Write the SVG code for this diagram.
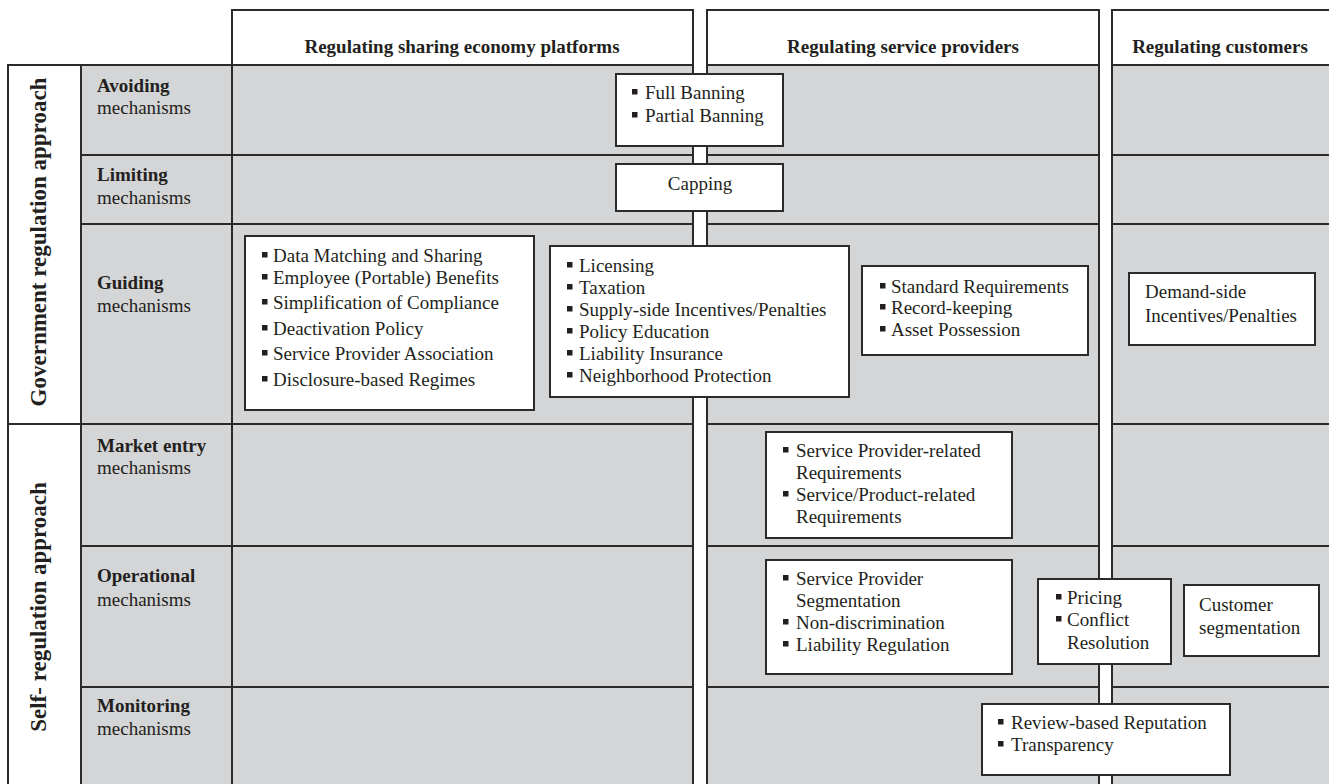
<svg xmlns="http://www.w3.org/2000/svg" xmlns:xlink="http://www.w3.org/1999/xlink" width="1329" height="784" viewBox="0 0 1329 784">
<style>
  .cell { fill: #d4d5d7; stroke: #2b2b2b; stroke-width: 2; }
  .wcell { fill: #ffffff; stroke: #2b2b2b; stroke-width: 2; }
  .box { fill: #ffffff; stroke: #2b2b2b; stroke-width: 2; }
  text { font-family: "Liberation Serif", "Times New Roman", serif; font-size: 19px; fill: #231f20; }
  .b { font-weight: bold; }
  .hdr { font-weight: bold; text-anchor: middle; }
  .vert { font-weight: bold; font-size: 23px; text-anchor: middle; }
  .mid { text-anchor: middle; }
</style>
<defs>
  <rect id="bul" x="0" y="-10" width="5.5" height="5.5" fill="#231f20"/>
</defs>

<g id="grid">
  <!-- headers -->
  <rect class="wcell" x="232" y="10" width="461" height="55"/>
  <rect class="wcell" x="707" y="10" width="392" height="55"/>
  <rect class="wcell" x="1112" y="10" width="222" height="55"/>
  <!-- approach column -->
  <rect class="wcell" x="8" y="65" width="73" height="359"/>
  <rect class="wcell" x="8" y="424" width="73" height="380"/>
  <!-- mechanism label column -->
  <rect class="cell" x="81" y="65" width="151" height="90"/>
  <rect class="cell" x="81" y="155" width="151" height="69"/>
  <rect class="cell" x="81" y="224" width="151" height="200"/>
  <rect class="cell" x="81" y="424" width="151" height="122"/>
  <rect class="cell" x="81" y="546" width="151" height="141"/>
  <rect class="cell" x="81" y="687" width="151" height="117"/>
  <!-- column 1 -->
  <rect class="cell" x="232" y="65" width="461" height="90"/>
  <rect class="cell" x="232" y="155" width="461" height="69"/>
  <rect class="cell" x="232" y="224" width="461" height="200"/>
  <rect class="cell" x="232" y="424" width="461" height="122"/>
  <rect class="cell" x="232" y="546" width="461" height="141"/>
  <rect class="cell" x="232" y="687" width="461" height="117"/>
  <!-- column 2 -->
  <rect class="cell" x="707" y="65" width="392" height="90"/>
  <rect class="cell" x="707" y="155" width="392" height="69"/>
  <rect class="cell" x="707" y="224" width="392" height="200"/>
  <rect class="cell" x="707" y="424" width="392" height="122"/>
  <rect class="cell" x="707" y="546" width="392" height="141"/>
  <rect class="cell" x="707" y="687" width="392" height="117"/>
  <!-- column 3 -->
  <rect class="cell" x="1112" y="65" width="222" height="90"/>
  <rect class="cell" x="1112" y="155" width="222" height="69"/>
  <rect class="cell" x="1112" y="224" width="222" height="200"/>
  <rect class="cell" x="1112" y="424" width="222" height="122"/>
  <rect class="cell" x="1112" y="546" width="222" height="141"/>
  <rect class="cell" x="1112" y="687" width="222" height="117"/>
</g>

<g id="headers">
  <text class="hdr" x="462" y="53">Regulating sharing economy platforms</text>
  <text class="hdr" x="903" y="53">Regulating service providers</text>
  <text class="hdr" x="1220" y="53">Regulating customers</text>
</g>

<g id="approaches">
  <text class="vert" transform="translate(46,242) rotate(-90)">Government regulation approach</text>
  <text class="vert" transform="translate(46,607) rotate(-90)">Self- regulation approach</text>
</g>

<g id="mechanisms">
  <text x="97" y="92" class="b">Avoiding</text><text x="97" y="114">mechanisms</text>
  <text x="97" y="181" class="b">Limiting</text><text x="97" y="204">mechanisms</text>
  <text x="97" y="289" class="b">Guiding</text><text x="97" y="312">mechanisms</text>
  <text x="97" y="452" class="b">Market entry</text><text x="97" y="474">mechanisms</text>
  <text x="97" y="582" class="b">Operational</text><text x="97" y="606">mechanisms</text>
  <text x="97" y="712" class="b">Monitoring</text><text x="97" y="735">mechanisms</text>
</g>

<g id="node-banning">
  <rect class="box" x="616" y="74" width="167" height="72"/>
  <use xlink:href="#bul" x="632" y="99"/><text x="645" y="99">Full Banning</text>
  <use xlink:href="#bul" x="632" y="122"/><text x="645" y="122">Partial Banning</text>
</g>

<g id="node-capping">
  <rect class="box" x="616" y="164" width="167" height="47"/>
  <text class="mid" x="700" y="190">Capping</text>
</g>

<g id="node-platform-guiding">
  <rect class="box" x="245" y="236" width="289" height="174"/>
  <use xlink:href="#bul" x="262" y="262"/><text x="273" y="262">Data Matching and Sharing</text>
  <use xlink:href="#bul" x="262" y="284"/><text x="273" y="284">Employee (Portable) Benefits</text>
  <use xlink:href="#bul" x="262" y="309"/><text x="273" y="309">Simplification of Compliance</text>
  <use xlink:href="#bul" x="262" y="335"/><text x="273" y="335">Deactivation Policy</text>
  <use xlink:href="#bul" x="262" y="360"/><text x="273" y="360">Service Provider Association</text>
  <use xlink:href="#bul" x="262" y="386"/><text x="273" y="386">Disclosure-based Regimes</text>
</g>

<g id="node-shared-guiding">
  <rect class="box" x="550" y="246" width="299" height="151"/>
  <use xlink:href="#bul" x="567" y="272"/><text x="579" y="272">Licensing</text>
  <use xlink:href="#bul" x="567" y="294"/><text x="579" y="294">Taxation</text>
  <use xlink:href="#bul" x="567" y="316"/><text x="579" y="316">Supply-side Incentives/Penalties</text>
  <use xlink:href="#bul" x="567" y="338"/><text x="579" y="338">Policy Education</text>
  <use xlink:href="#bul" x="567" y="360"/><text x="579" y="360">Liability Insurance</text>
  <use xlink:href="#bul" x="567" y="382"/><text x="579" y="382">Neighborhood Protection</text>
</g>

<g id="node-provider-guiding">
  <rect class="box" x="862" y="266" width="226" height="89"/>
  <use xlink:href="#bul" x="880" y="293"/><text x="891" y="293">Standard Requirements</text>
  <use xlink:href="#bul" x="880" y="314"/><text x="891" y="314">Record-keeping</text>
  <use xlink:href="#bul" x="880" y="336"/><text x="891" y="336">Asset Possession</text>
</g>

<g id="node-customer-guiding">
  <rect class="box" x="1129" y="273" width="186" height="72"/>
  <text x="1145" y="298">Demand-side</text>
  <text x="1145" y="322">Incentives/Penalties</text>
</g>

<g id="node-market-entry">
  <rect class="box" x="766" y="432" width="246" height="106"/>
  <use xlink:href="#bul" x="783" y="457"/><text x="796" y="457">Service Provider-related</text>
  <text x="796" y="479">Requirements</text>
  <use xlink:href="#bul" x="783" y="501"/><text x="796" y="501">Service/Product-related</text>
  <text x="796" y="523">Requirements</text>
</g>

<g id="node-operational-provider">
  <rect class="box" x="766" y="560" width="246" height="114"/>
  <use xlink:href="#bul" x="783" y="585"/><text x="796" y="585">Service Provider</text>
  <text x="796" y="607">Segmentation</text>
  <use xlink:href="#bul" x="783" y="629"/><text x="796" y="629">Non-discrimination</text>
  <use xlink:href="#bul" x="783" y="651"/><text x="796" y="651">Liability Regulation</text>
</g>

<g id="node-operational-shared">
  <rect class="box" x="1038" y="579" width="133" height="85"/>
  <use xlink:href="#bul" x="1056" y="604"/><text x="1067" y="604">Pricing</text>
  <use xlink:href="#bul" x="1056" y="626"/><text x="1067" y="626">Conflict</text>
  <text x="1067" y="649">Resolution</text>
</g>

<g id="node-operational-customer">
  <rect class="box" x="1184" y="585" width="135" height="71"/>
  <text x="1199" y="611">Customer</text>
  <text x="1199" y="634">segmentation</text>
</g>

<g id="node-monitoring">
  <rect class="box" x="982" y="704" width="248" height="71"/>
  <use xlink:href="#bul" x="998" y="729"/><text x="1011" y="729">Review-based Reputation</text>
  <use xlink:href="#bul" x="998" y="751"/><text x="1011" y="751">Transparency</text>
</g>
</svg>
